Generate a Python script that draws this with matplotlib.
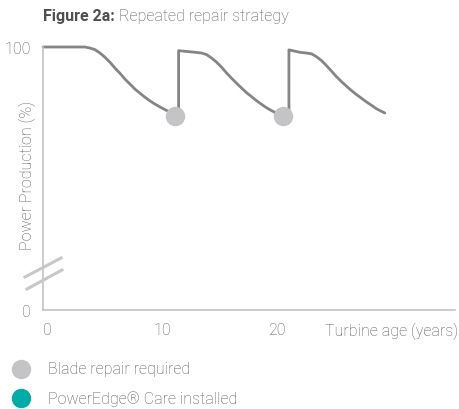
import matplotlib.pyplot as plt
from matplotlib.lines import Line2D

plt.rcParams['font.family'] = ['Roboto', 'DejaVu Sans']

# power production curve (years, %)
age = [-0.35, 3.3, 3.74, 4.17, 4.61, 5.04, 5.48, 5.91, 6.35, 6.78, 7.22, 7.65,
       8.09, 8.52, 8.96, 9.39, 9.83, 10.26, 10.7, 11.45,
       11.45, 12.87, 13.45, 13.89, 14.32, 14.76, 15.19, 15.63, 16.06, 16.5,
       16.93, 17.37, 17.8, 18.23, 18.67, 19.1, 19.54, 19.97, 21.05,
       21.05, 22.0, 22.58, 23.02, 23.45, 23.89, 24.32, 24.76, 25.19, 25.63,
       26.06, 26.5, 26.93, 27.37, 27.8, 28.24, 28.67, 29.39]
power = [100, 100, 99.6, 99.0, 97.7, 96.1, 94.2, 92.0, 90.0, 87.8, 85.9, 84.0,
         82.4, 80.9, 79.5, 78.3, 77.2, 76.2, 75.2, 74.0,
         98.6, 98.0, 97.7, 97.1, 95.8, 94.2, 92.3, 90.1, 88.1, 86.2,
         84.4, 82.6, 81.1, 79.6, 78.2, 76.9, 75.8, 74.8, 73.4,
         98.9, 98.0, 97.7, 97.4, 96.3, 94.8, 92.9, 90.8, 88.7, 86.8,
         85.1, 83.4, 81.9, 80.5, 79.1, 77.8, 76.5, 74.9]

# blade repairs
repair_age = [11.13, 20.55]
repair_power = [73.9, 73.9]

xticks = [0, 10, 20]
yticks = [0, 100]

grey_line = '#858585'
grey_dot = '#c4c4c6'
teal = '#00aca6'
text_grey = '#585858'
fs = 11.5

fig = plt.figure(figsize=(4.59, 4.10), dpi=100)
W, H = 459, 410
ax = fig.add_axes([43 / W, 1 - 311 / H, (455 - 43) / W, (311 - 48) / H])

ax.plot(age, power, color=grey_line, lw=2.0, solid_joinstyle='round',
        solid_capstyle='round', clip_on=False, zorder=2)
ax.plot(repair_age, repair_power, 'o', ms=14, color=grey_dot, mec='none',
        clip_on=False, zorder=3)

ax.set_xlim(-0.35, 35.5)
ax.set_ylim(0, 100)
ax.set_xticks(xticks)
ax.set_yticks(yticks)
ax.tick_params(length=0, labelsize=fs, labelcolor=text_grey)
ax.tick_params(axis='x', pad=9)
ax.tick_params(axis='y', pad=9)
for lbl in ax.get_xticklabels() + ax.get_yticklabels():
    lbl.set_fontweight('light')
for s in ['top', 'right']:
    ax.spines[s].set_visible(False)
for s in ['left', 'bottom']:
    ax.spines[s].set_color('#c3c3c3')
    ax.spines[s].set_linewidth(1.2)

fig.text(27 / W, 1 - 175 / H, 'Power Production (%)', fontsize=fs,
         color=text_grey, rotation=90, va='center', ha='center',
         fontweight='light')

# axis break marks
for (x0, y0, x1, y1) in [(25, 278, 61, 259), (27, 290, 62, 271)]:
    fig.add_artist(Line2D([x0 / W, x1 / W], [1 - y0 / H, 1 - y1 / H],
                          color='#c8c8c8', lw=2.2, transform=fig.transFigure))

fig.text(325 / W, 1 - 331 / H, 'Turbine age (years)', fontsize=fs,
         color=text_grey, va='center', ha='left', fontweight='light')

# title
t1 = fig.text(43 / W, 1 - 17 / H, 'Figure 2a:', fontsize=fs, fontweight='bold',
              color='#4f4f4f', va='center')
fig.canvas.draw()
bb = t1.get_window_extent()
fig.text((bb.x1 + 4) / W, 1 - 17 / H, 'Repeated repair strategy', fontsize=fs,
         color=text_grey, va='center', fontweight='light')

# legend
for y, col, lab in [(370, grey_dot, 'Blade repair required'),
                    (399, teal, 'PowerEdge® Care installed')]:
    fig.add_artist(Line2D([21 / W], [1 - y / H], marker='o', ms=14, color=col,
                          mec='none', transform=fig.transFigure))
    fig.text(48 / W, 1 - y / H, lab, fontsize=fs, color=text_grey, va='center',
             fontweight='light')

fig.savefig('out.png', dpi=100, facecolor='white')
